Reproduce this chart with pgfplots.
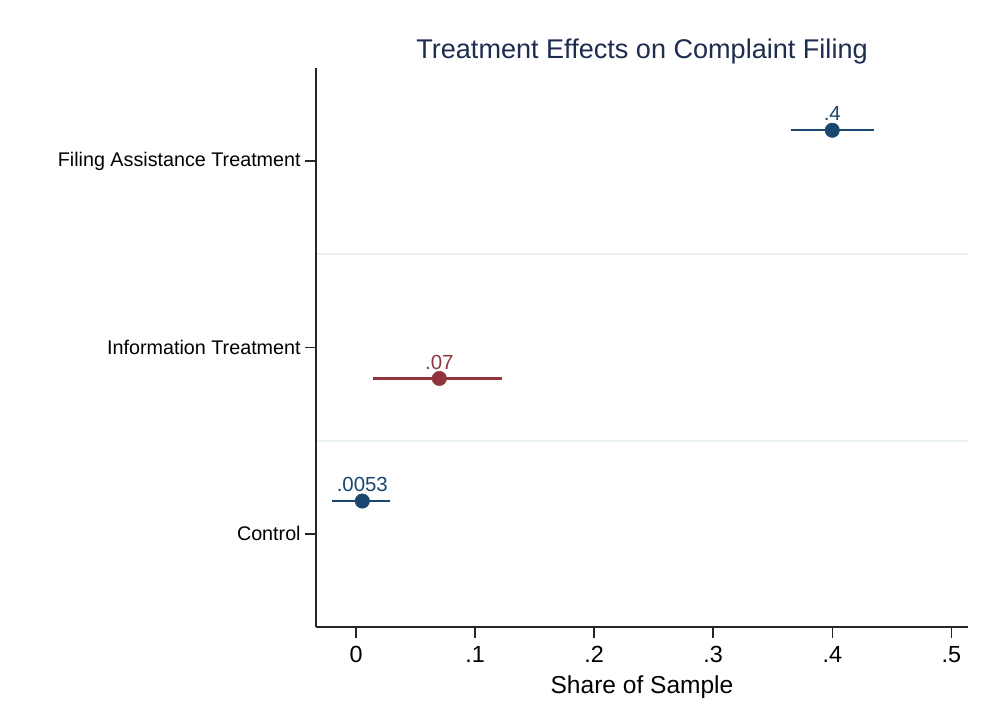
\documentclass[border=0pt]{standalone}
\usepackage{pgfplots}
\pgfplotsset{compat=1.18}
\usepackage{fontspec}
\setmainfont{Liberation Sans}
\definecolor{snavy}{RGB}{26,71,111}
\definecolor{smaroon}{RGB}{144,53,59}
\definecolor{stitle}{RGB}{30,45,79}
\definecolor{sgrid}{RGB}{234,242,243}
\begin{document}
\begin{tikzpicture}
\useasboundingbox (0pt,0pt) rectangle (738pt,-539.25pt);
\begin{axis}[
  at={(237pt,-470.25pt)}, anchor=south west,
  scale only axis, width=489pt, height=419.25pt,
  xmin=-0.0336, xmax=0.514, ymin=0.5, ymax=3.5,
  axis x line*=bottom, axis y line*=left,
  axis line style={-, line width=1.1pt, black!85},
  tick align=outside, major tick length=8pt,
  tick style={line width=1.1pt, black!85},
  xtick={0,0.1,0.2,0.3,0.4,0.5},
  xticklabels={0,.1,.2,.3,.4,.5},
  ytick={1,2,3},
  yticklabels={Control,Information Treatment,Filing Assistance Treatment},
  minor ytick={1.5,2.5}, minor tick length=0pt,
  yminorgrids=true, minor grid style={sgrid, line width=1.5pt},
  x tick label style={font=\fontsize{17.5}{17.5}\selectfont, yshift=-3pt},
  y tick label style={font=\fontsize{14.8}{14.8}\selectfont},
  xlabel={Share of Sample},
  xlabel style={font=\fontsize{18.4}{18.4}\selectfont, yshift=-3pt},
  title={Treatment Effects on Complaint Filing},
  title style={font=\fontsize{20.3}{20.3}\selectfont, color=stitle, yshift=-6.5pt},
  clip=false,
  point meta=explicit symbolic,
  nodes near coords,
  nodes near coords style={font=\fontsize{15.3}{15.3}\selectfont, anchor=base, inner sep=0pt, yshift=7pt},
]
% CIs
\addplot[snavy, line width=1.6pt, forget plot, nodes near coords={}] coordinates {(0.365,3.166) (0.435,3.166)};
\addplot[smaroon, line width=1.6pt, forget plot, nodes near coords={}] coordinates {(0.0143,1.834) (0.1227,1.834)};
\addplot[snavy, line width=1.6pt, forget plot, nodes near coords={}] coordinates {(-0.020,1.176) (0.0286,1.176)};
% points
\addplot[only marks, mark=*, mark size=5.4pt, snavy, every node near coord/.append style={text=snavy}] coordinates {(0.4,3.166) [.4]};
\addplot[only marks, mark=*, mark size=5.4pt, smaroon, every node near coord/.append style={text=smaroon}] coordinates {(0.07,1.834) [.07]};
\addplot[only marks, mark=*, mark size=5.4pt, snavy, every node near coord/.append style={text=snavy}] coordinates {(0.0053,1.176) [.0053]};
\end{axis}
\end{tikzpicture}
\end{document}
